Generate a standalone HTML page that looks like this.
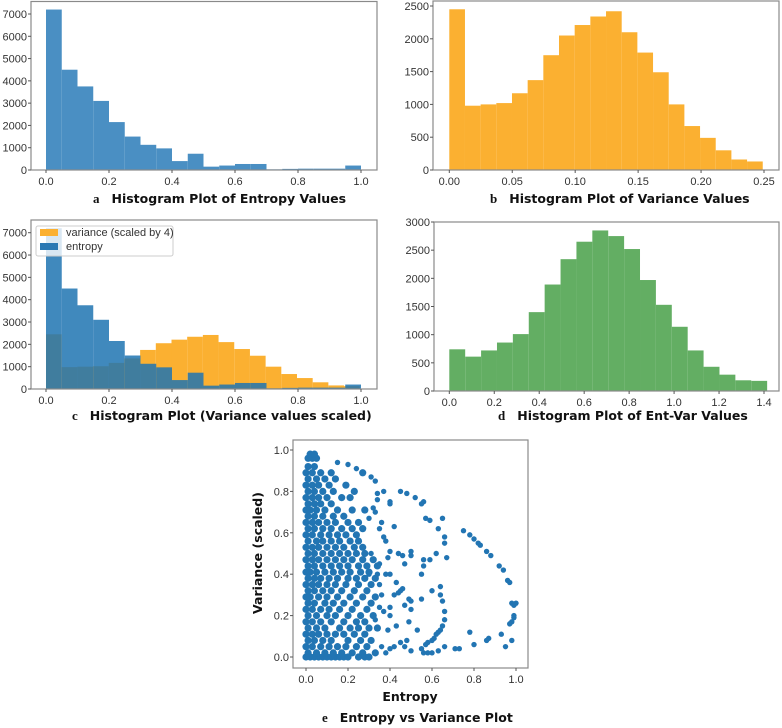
<!DOCTYPE html>
<html><head><meta charset="utf-8">
<style>
html,body{margin:0;padding:0;background:#fff;}
svg{display:block;font-family:"DejaVu Sans","Liberation Sans",sans-serif;}
.tk{font-size:11px;fill:#333;font-family:"Liberation Sans",sans-serif;}
.ttl{font-size:12.5px;font-weight:bold;fill:#111;}
.lt{font-family:"Liberation Serif",serif;font-weight:bold;font-size:13px;}
</style></head>
<body>
<svg id="fig" width="782" height="728" viewBox="0 0 782 728"></svg>
<script>
// ---- data ----
const entropyCounts = [7200,4500,3750,3100,2150,1500,1130,970,400,730,150,200,270,270,30,50,60,60,60,200];
const varianceCounts = [2450,980,1000,1020,1170,1370,1750,2050,2210,2340,2420,2100,1790,1490,1000,670,490,300,160,130];
const entvarCounts = [740,610,720,860,1010,1400,1890,2340,2650,2850,2750,2520,1970,1530,1140,720,430,290,190,180];
const entropyTicks = ["0.0","0.2","0.4","0.6","0.8","1.0"];
const varianceTicks = ["0.00","0.05","0.10","0.15","0.20","0.25"];
const entvarTicks = ["0.0","0.2","0.4","0.6","0.8","1.0","1.2","1.4"];
const countTicksA = [0,1000,2000,3000,4000,5000,6000,7000];
const countTicksB = [0,500,1000,1500,2000,2500];
const countTicksD = [0,500,1000,1500,2000,2500,3000];
const sparseX = [0.75,0.78,0.8,0.82,0.83,0.86,0.88,0.92,0.94,0.96,0.97,0.98,0.99,1.0,0.99,0.99,0.98,0.97,0.98,0.95,0.93,0.87,0.86,0.8,0.78,0.73,0.71,
0.45,0.48,0.52,0.55,0.56,0.57,0.59,0.63,0.65,0.66,0.66,0.67,0.62,0.59,0.56,0.56,0.55,0.6,0.64,0.64,0.65,0.66,0.66,0.65,0.64,0.63,0.62,0.61,0.6,0.58,0.57,0.55,0.56,0.58,0.6,0.63,0.66,0.55,0.53,0.5,0.47,0.48,0.49,0.5,0.5,0.49,0.47,0.46,0.45,0.44,0.43,0.47,0.5,0.5,0.46,0.44,0.4,0.39,0.42,0.4,0.4,0.37,0.34,0.33,0.31,0.24,0.2,0.15,0.38,0.4,0.42,0.4,0.4,0.43,0.45,0.42,0.4,0.38,0.36,0.39,0.37,0.35,0.33,0.36,0.35,0.34,0.35,0.37,0.36,0.35,0.38,0.33,0.34,0.32,0.3,0.3,0.31];
const sparseY = [0.61,0.59,0.57,0.55,0.54,0.51,0.49,0.44,0.42,0.37,0.36,0.26,0.25,0.26,0.2,0.19,0.17,0.16,0.08,0.05,0.11,0.09,0.08,0.06,0.12,0.04,0.04,
0.8,0.79,0.77,0.74,0.75,0.67,0.66,0.62,0.67,0.58,0.55,0.48,0.5,0.47,0.47,0.44,0.4,0.32,0.34,0.3,0.27,0.22,0.18,0.15,0.13,0.12,0.11,0.09,0.08,0.07,0.06,0.04,0.02,0.02,0.02,0.03,0.05,0.28,0.13,0.03,0.05,0.08,0.17,0.23,0.27,0.28,0.25,0.33,0.32,0.31,0.36,0.45,0.51,0.49,0.49,0.5,0.51,0.48,0.63,0.74,0.75,0.8,0.79,0.85,0.87,0.91,0.93,0.94,0.4,0.4,0.3,0.24,0.2,0.15,0.07,0.05,0.04,0.02,0.05,0.13,0.22,0.24,0.18,0.3,0.35,0.4,0.45,0.58,0.65,0.62,0.56,0.7,0.76,0.72,0.67,0.4,0.5];
const denseRowY = [0,0.02,0.05,0.08,0.11,0.14,0.17,0.2,0.23,0.26,0.29,0.32,0.35,0.38,0.41,0.44,0.47,0.5,0.53,0.56,0.59,0.62,0.65,0.68,0.71,0.74,0.77,0.8,0.83,0.86,0.89,0.92,0.96,0.98];
const denseRowX = [
[0,0.02,0.04,0.06,0.08,0.1,0.12,0.14,0.16,0.18,0.2,0.25,0.28,0.3],
[0.01,0.05,0.09,0.13,0.17,0.22,0.27,0.33],
[0,0.03,0.07,0.11,0.15,0.19,0.24,0.29],
[0.01,0.04,0.08,0.12,0.2,0.26,0.31],
[0,0.03,0.06,0.1,0.14,0.18,0.23,0.28],
[0.01,0.05,0.09,0.16,0.21,0.25,0.3,0.34],
[0,0.03,0.07,0.12,0.18,0.24,0.28],
[0.01,0.05,0.1,0.14,0.2,0.26,0.32],
[0,0.03,0.07,0.11,0.16,0.22,0.29],
[0.01,0.04,0.09,0.13,0.18,0.24,0.31],
[0,0.02,0.06,0.1,0.15,0.21,0.27,0.33],
[0.01,0.04,0.08,0.12,0.17,0.23,0.29],
[0,0.03,0.06,0.1,0.14,0.19,0.25,0.31],
[0.01,0.04,0.07,0.11,0.15,0.2,0.24,0.28,0.33],
[0,0.02,0.05,0.09,0.13,0.17,0.21,0.26,0.3],
[0.01,0.04,0.08,0.12,0.16,0.2,0.25,0.29,0.34],
[0,0.03,0.06,0.1,0.14,0.18,0.22,0.27,0.32],
[0.01,0.04,0.08,0.12,0.16,0.2,0.24,0.28],
[0,0.03,0.06,0.1,0.14,0.18,0.23,0.27],
[0.01,0.05,0.08,0.12,0.16,0.21,0.25],
[0,0.03,0.07,0.11,0.15,0.19,0.24],
[0.01,0.04,0.08,0.12,0.17,0.22,0.27],
[0,0.03,0.06,0.1,0.14,0.2,0.25],
[0.01,0.04,0.08,0.13,0.18],
[0,0.02,0.05,0.09,0.15,0.22,0.28],
[0.01,0.04,0.07,0.12],
[0,0.03,0.06,0.1,0.17,0.21],
[0.01,0.04,0.08,0.13,0.23],
[0,0.03,0.06,0.11,0.19],
[0.01,0.05,0.09,0.14],
[0,0.03,0.07,0.12,0.27],
[0.01,0.04],
[0.01,0.03,0.05],
[0.02,0.04]];
const scatterTicks = ["0.0","0.2","0.4","0.6","0.8","1.0"];

// ---- drawing ----
const NS = "http://www.w3.org/2000/svg";
const svg = document.getElementById('fig');
function mk(tag, attrs, parent){
  const e = document.createElementNS(NS, tag);
  for (const k in attrs) e.setAttribute(k, attrs[k]);
  (parent||svg).appendChild(e);
  return e;
}
function frame(g, x0, y0, x1, y1){
  const r = mk('rect',{x:x0,y:y0,width:x1-x0,height:y1-y0,fill:'none',stroke:'#8a8a8a','stroke-width':1.2},g);
  
  
}
function yAxis(g, ticks, x0, yScale, labels){
  ticks.forEach((t,i)=>{
    const y = yScale(t);
    mk('line',{x1:x0-3,x2:x0,y1:y,y2:y,stroke:'#555'},g);
    const tx = mk('text',{x:x0-4,y:y+4,'text-anchor':'end',class:'tk'},g);
    tx.textContent = labels ? labels[i] : t;
    
    
  });
}
function xAxis(g, labels, yb, xScale, vals){
  labels.forEach((l,i)=>{
    const x = xScale(vals[i]);
    mk('line',{x1:x,x2:x,y1:yb,y2:yb+3,stroke:'#555'},g);
    const tx = mk('text',{x:x,y:yb+15,'text-anchor':'middle',class:'tk'},g);
    tx.textContent = l;
    
    
  });
}
function bars(g, counts, xmin, xmax, xScale, yScale, fill, opacity, name){
  const w = (xmax - xmin)/counts.length;
  counts.forEach((c,i)=>{
    const xa = xScale(xmin + i*w), xb = xScale(xmin + (i+1)*w);
    const r = mk('rect',{x:xa,y:yScale(c),width:xb-xa,height:yScale(0)-yScale(c),fill:fill,'fill-opacity':opacity},g);
    
    
  });
}
function title(x, y, letter, text, name){
  const t = mk('text',{x:x,y:y,class:'ttl'});
  
  
  const l = mk('tspan',{class:'lt'},t); l.textContent = letter;
  const s = mk('tspan',{dx:12},t); s.textContent = text;
}
function lin(d0,d1,r0,r1){ return v => r0 + (v-d0)/(d1-d0)*(r1-r0); }

// Panel a
{
  const g = mk('g',{});  
  const xs = lin(0,1,46,361), ys = lin(0,7000,170,14);
  bars(g, entropyCounts, 0, 1, xs, ys, '#4a8fc3', 1, 'entropy-bar');
  frame(g, 31, 1.5, 377, 170);
  yAxis(g, countTicksA, 31, ys);
  xAxis(g, entropyTicks, 170, xs, entropyTicks.map(Number));
  title(93, 203, 'a', 'Histogram Plot of Entropy Values', 'title-a');
}
// Panel b
{
  const g = mk('g',{});  
  const xs = lin(0,0.25,449.3,764), ys = lin(0,2500,170,6);
  bars(g, varianceCounts, 0, 0.249, xs, ys, '#fbb031', 1, 'variance-bar');
  frame(g, 433, 1, 779, 170);
  yAxis(g, countTicksB, 433, ys);
  xAxis(g, varianceTicks, 170, xs, varianceTicks.map(Number));
  title(490, 203, 'b', 'Histogram Plot of Variance Values', 'title-b');
}
// Panel c
{
  const g = mk('g',{});  
  const xs = lin(0,1,46,361), ys = lin(0,7000,389,232.7);
  bars(g, varianceCounts, 0, 0.996, xs, ys, '#fbb031', 1, 'variance-scaled-bar');
  bars(g, entropyCounts, 0, 1, xs, ys, '#1f74b2', 0.85, 'entropy-bar');
  frame(g, 31, 220, 377, 389);
  yAxis(g, countTicksA, 31, ys);
  xAxis(g, entropyTicks, 389, xs, entropyTicks.map(Number));
  const lg = mk('g',{},g);  
  mk('rect',{x:36,y:226,width:137,height:30,fill:'#fff','fill-opacity':0.8,stroke:'#ccc',rx:2},lg);
  mk('rect',{x:40,y:229,width:18,height:7,fill:'#fbb031'},lg);
  const t1 = mk('text',{x:66,y:236,class:'tk','font-size':'10.5'},lg); t1.textContent='variance (scaled by 4)';
   
  mk('rect',{x:40,y:243,width:18,height:7,fill:'#2a78b3'},lg);
  const t2 = mk('text',{x:66,y:250,class:'tk','font-size':'10.5'},lg); t2.textContent='entropy';
   
  title(72, 420, 'c', 'Histogram Plot (Variance values scaled)', 'title-c');
}
// Panel d
{
  const g = mk('g',{});  
  const xs = lin(0,1.4,449.3,764), ys = lin(0,3000,391,222);
  bars(g, entvarCounts, 0, 1.414, xs, ys, '#63ae63', 1, 'entvar-bar');
  frame(g, 434, 222, 779, 391);
  yAxis(g, countTicksD, 434, ys);
  xAxis(g, entvarTicks, 391, xs, entvarTicks.map(Number));
  title(498, 420, 'd', 'Histogram Plot of Ent-Var Values', 'title-d');
}
// Panel e
{
  const g = mk('g',{});  
  const xs = lin(0,1,306,516), ys = lin(0,1,657,450);
  const dot = (x,y,r)=>{
    const c = mk('circle',{cx:xs(x),cy:ys(y),r:r,fill:'#2275b3'},g);
    
    
  };
  denseRowY.forEach((y,i)=>denseRowX[i].forEach(x=>dot(x,y,3.6)));
  sparseX.forEach((x,i)=>dot(x, sparseY[i], 2.7));
  frame(g, 293, 440, 528, 668);
  yAxis(g, scatterTicks.map(Number), 293, ys, scatterTicks);
  xAxis(g, scatterTicks, 668, xs, scatterTicks.map(Number));
  const xl = mk('text',{x:410,y:701,'text-anchor':'middle',class:'ttl','font-size':'12'},g); xl.textContent='Entropy';
   
  const yl = mk('text',{x:262,y:553,'text-anchor':'middle',class:'ttl','font-size':'12',transform:'rotate(-90 262 553)'},g); yl.textContent='Variance (scaled)';
   
  title(322, 722, 'e', 'Entropy vs Variance Plot', 'title-e');
}
</script>
</body></html>
